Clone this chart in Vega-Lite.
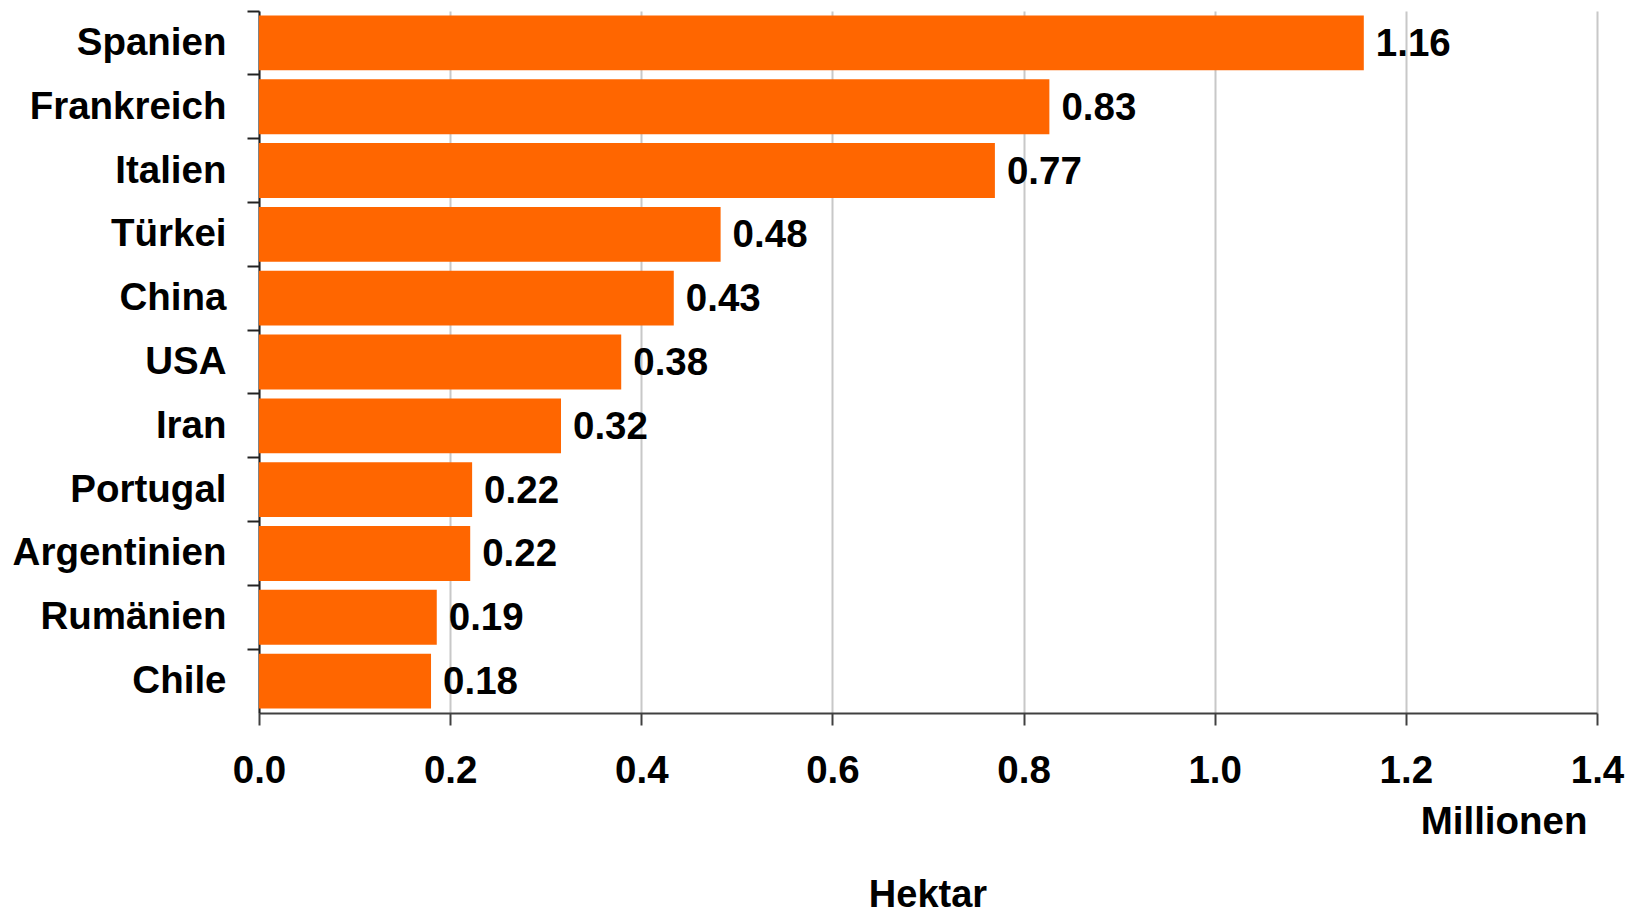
{
  "$schema": "https://vega.github.io/schema/vega-lite/v6.json",
  "autosize": {"type": "none"},
  "width": 1338,
  "height": 702,
  "padding": {"left": 259, "top": 11, "right": 40, "bottom": 202},
  "background": "white",
  "config": {
    "font": "Liberation Sans",
    "view": {"stroke": null}
  },
  "title": {
    "text": "Hektar",
    "orient": "bottom",
    "anchor": "middle",
    "font": "Liberation Sans",
    "fontSize": 38,
    "fontWeight": "bold",
    "color": "black",
    "offset": 36
  },
  "data": {
    "values": [
      {"land": "Spanien", "wert": 1.156},
      {"land": "Frankreich", "wert": 0.827},
      {"land": "Italien", "wert": 0.77},
      {"land": "Türkei", "wert": 0.483},
      {"land": "China", "wert": 0.434},
      {"land": "USA", "wert": 0.379},
      {"land": "Iran", "wert": 0.316},
      {"land": "Portugal", "wert": 0.223},
      {"land": "Argentinien", "wert": 0.221},
      {"land": "Rumänien", "wert": 0.186},
      {"land": "Chile", "wert": 0.18}
    ]
  },
  "encoding": {
    "y": {
      "field": "land",
      "type": "nominal",
      "sort": null,
      "scale": {"paddingInner": 0, "paddingOuter": 0},
      "axis": {
        "title": null,
        "bandPosition": 0,
        "labelFont": "Liberation Sans",
        "labelFontSize": 38.5,
        "labelFontWeight": "bold",
        "labelColor": "black",
        "labelPadding": 21,
        "labelLimit": 0,
        "tickSize": 12,
        "tickWidth": 2,
        "tickColor": "#222222",
        "domainColor": "#222222",
        "domainWidth": 2,
        "grid": false
      }
    },
    "x": {
      "field": "wert",
      "type": "quantitative",
      "scale": {"domain": [0, 1.4], "nice": false},
      "axis": {
        "title": "Millionen",
        "titleFont": "Liberation Sans",
        "titleFontSize": 38.5,
        "titleFontWeight": "bold",
        "titleColor": "black",
        "titleAnchor": "end",
        "titleAlign": "right",
        "titleX": 1328,
        "titlePadding": 14,
        "values": [0, 0.2, 0.4, 0.6, 0.8, 1.0, 1.2, 1.4],
        "format": ".1f",
        "labelFont": "Liberation Sans",
        "labelFontSize": 38.5,
        "labelFontWeight": "bold",
        "labelColor": "black",
        "labelPadding": 27,
        "labelFlush": false,
        "tickSize": 12,
        "tickWidth": 2,
        "tickColor": "#404040",
        "domainColor": "#404040",
        "domainWidth": 2,
        "grid": true,
        "gridColor": "#c8c8c8",
        "gridWidth": 2
      }
    }
  },
  "layer": [
    {
      "mark": {"type": "bar", "color": "#FF6600", "height": {"band": 0.86}}
    },
    {
      "mark": {
        "type": "text",
        "align": "left",
        "baseline": "middle",
        "dx": 12,
        "dy": 1,
        "font": "Liberation Sans",
        "fontSize": 38.5,
        "fontWeight": "bold",
        "color": "black"
      },
      "encoding": {
        "text": {"field": "wert", "type": "quantitative", "format": ".2f"}
      }
    }
  ]
}
